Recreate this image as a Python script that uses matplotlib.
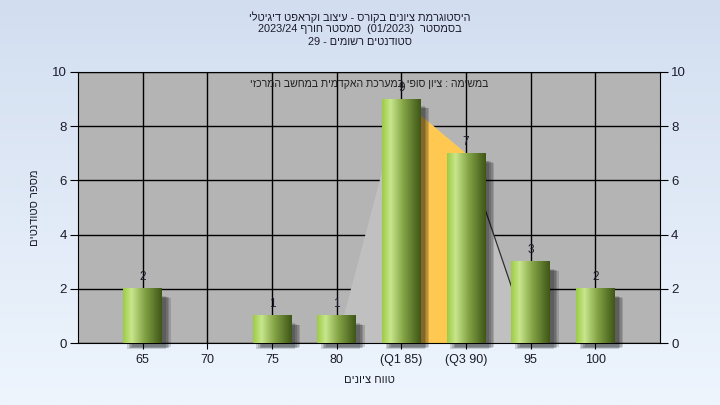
import re
import numpy as np
import matplotlib.pyplot as plt
from matplotlib.patches import Rectangle
from matplotlib.colors import LinearSegmentedColormap

categories = ['65', '70', '75', '80', '(Q1 85)', '(Q3 90)', '95', '100']
counts = [2, 0, 1, 1, 9, 7, 3, 2]

# distribution shape drawn behind the bars, and the Q1-Q3 band
area_x = [3, 4, 5, 6]
area_y = [0, 9, 7, 0]
iqr_x = [4, 5]
iqr_y = [9, 7]

title_lines = [
    'היסטוגרמת ציונים בקורס - עיצוב וקראפט דיגיטלי',
    'בסמסטר  (01/2023)  סמסטר חורף 2023/24',
    'סטודנטים רשומים - 29',
]
subtitle = 'במשימה : ציון סופי במערכת האקדמית במחשב המרכזי'
xlabel = 'טווח ציונים'
ylabel = 'מספר סטודנטים'


def visual(s):
    # no bidi in matplotlib: reverse the hebrew, keep number runs as they are
    tokens = re.findall(r'[0-9][0-9/]*|.', s)
    out = ''.join(tokens[::-1])
    return out.translate(str.maketrans('()', ')('))


plt.rcParams['font.family'] = ['Liberation Sans', 'DejaVu Sans']
text_color = '#1c1c2c'

fig = plt.figure(figsize=(7.2, 4.05), dpi=100)

# gradient background
bg = fig.add_axes([0, 0, 1, 1], zorder=-5)
grad = np.linspace(0, 1, 256).reshape(-1, 1)
bg_cmap = LinearSegmentedColormap.from_list('bg', ['#d2def0', '#eef5fd'])
bg.imshow(grad, cmap=bg_cmap, aspect='auto', extent=[0, 1, 0, 1], origin='upper')
bg.axis('off')

ax = fig.add_axes([78 / 720, 1 - 343 / 405, (660 - 78) / 720, (343 - 72) / 405])
ax.set_facecolor('#b4b4b4')
x = np.arange(len(categories))

ax.set_axisbelow(True)
ax.grid(True, color='black', lw=1)

ax.fill(area_x, area_y, color='#c0c0c0', lw=0, zorder=1)
ax.fill_between(iqr_x, iqr_y, color='#ffc850', lw=0, zorder=1.1)
ax.plot(area_x[2:], area_y[2:], color='#303030', lw=0.9, zorder=1.2)

bar_w = 0.6
bar_cmap = LinearSegmentedColormap.from_list(
    'bar', [(0, '#9ccb45'), (0.22, '#c8e68c'), (0.55, '#84a446'), (1, '#3e5616')])
shade = np.linspace(0, 1, 200).reshape(1, -1)

for xi, v in zip(x, counts):
    if v == 0:
        continue
    # soft shadow
    for k in range(4):
        off = 0.025 * k
        ax.add_patch(Rectangle((xi - bar_w / 2 + 0.06 + off, -0.22 + off),
                               bar_w, v - 0.05 - 2 * off,
                               facecolor='black', alpha=0.15, lw=0,
                               zorder=2, clip_on=False))
    ax.imshow(shade, cmap=bar_cmap, extent=[xi - bar_w / 2, xi + bar_w / 2, 0, v],
              aspect='auto', interpolation='bilinear', zorder=3)
    ax.annotate(str(v), (xi, v), xytext=(0, 4), textcoords='offset points',
                ha='center', va='bottom', fontsize=8.5, color=text_color, zorder=5)

ax.set_xlim(-1, len(categories))
ax.set_ylim(0, 10)
ax.set_xticks(x, categories)
ax.set_yticks(range(0, 11, 2))
ax.tick_params(axis='x', length=4, pad=4, labelsize=9, colors=text_color)
ax.tick_params(axis='y', length=6, pad=2, labelsize=9.5, colors=text_color,
               right=True, labelright=True)
ax.tick_params(color='black')
for sp in ax.spines.values():
    sp.set_color('black')

ax.text(0.5, 0.956, visual(subtitle), transform=ax.transAxes,
        ha='center', va='center', fontsize=7.6, color='#202020', zorder=6)

for i, line in enumerate(title_lines):
    fig.text(0.5, 1 - (17 + 12.5 * i) / 405, visual(line), ha='center', va='center',
             fontsize=7.9, color=text_color)

fig.text(369 / 720, 1 - 380 / 405, visual(xlabel), ha='center', va='center',
         fontsize=8, color=text_color)
fig.text(35 / 720, 1 - 208 / 405, visual(ylabel), ha='center', va='center',
         rotation=90, fontsize=8, color=text_color)

fig.savefig('out.png', dpi=100)
